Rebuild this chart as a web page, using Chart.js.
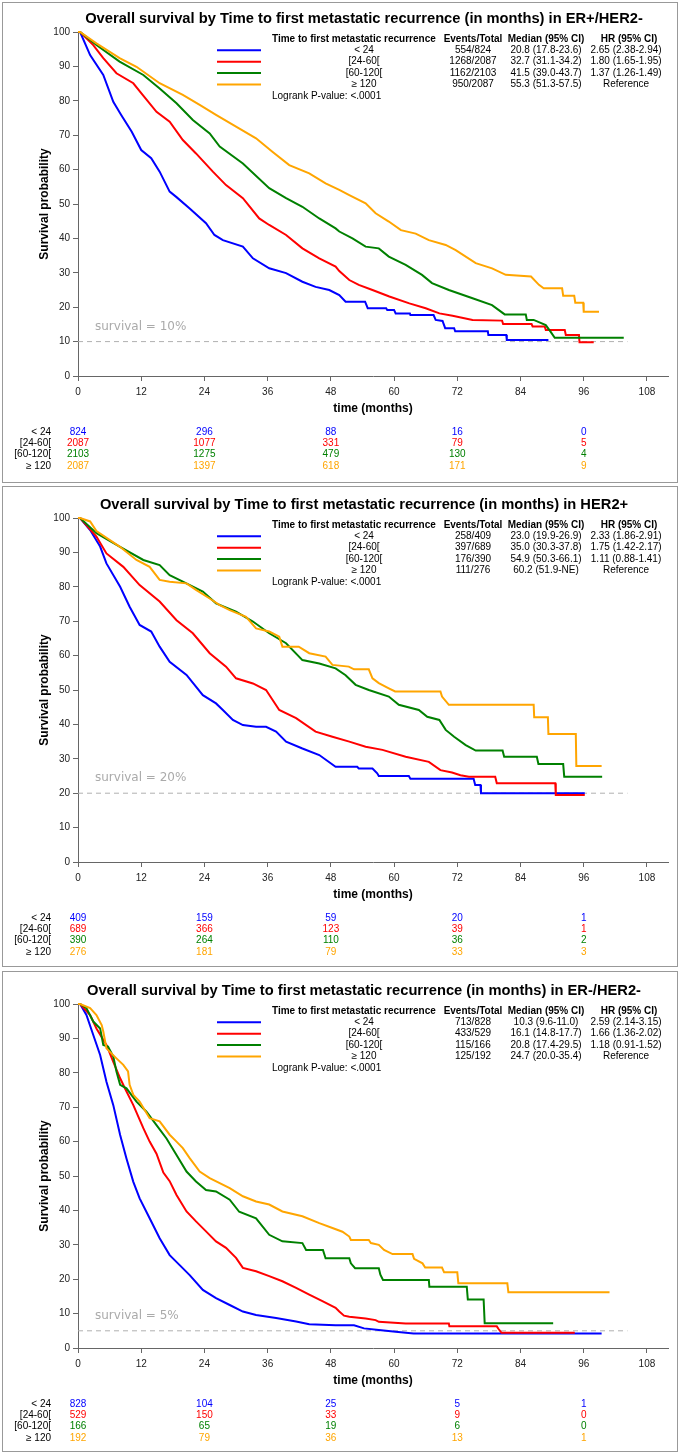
<!DOCTYPE html>
<html>
<head>
<meta charset="utf-8">
<script src="https://cdn.jsdelivr.net/npm/chart.js@4.4.1/dist/chart.umd.min.js"></script>
<style>
  body { margin: 0; background: #fff; }
  .panel { position: absolute; left: 2px; width: 676px; height: 481px; border: 1px solid #999; box-sizing: border-box; background: #fff; }
  .panel canvas { position: absolute; left: 0; top: 0; }
</style>
</head>
<body>
<div class="panel" style="top:2px"><canvas id="c1" width="674" height="479"></canvas></div>
<div class="panel" style="top:486px"><canvas id="c2" width="674" height="479"></canvas></div>
<div class="panel" style="top:971px"><canvas id="c3" width="674" height="479"></canvas></div>
<script>
const FONT = "'Liberation Sans', Arial, sans-serif";

const groups = ['< 24', '[24-60[', '[60-120[', '\u2265 120'];
const xTicks = [0, 12, 24, 36, 48, 60, 72, 84, 96, 108];
const yTicks = [0, 10, 20, 30, 40, 50, 60, 70, 80, 90, 100];
const atRiskTimes = [0, 24, 48, 72, 96];
const titles = [
  'Overall survival by Time to first metastatic recurrence (in months) in ER+/HER2-',
  'Overall survival by Time to first metastatic recurrence (in months) in HER2+',
  'Overall survival by Time to first metastatic recurrence (in months) in ER-/HER2-'
];
const refLevels = [10, 20, 5];
const refEnd = 104.3;

// ER+/HER2-  : [months, survival %]
const erpos_lt24 = [[0,100],[0.4,100],[2.3,93.3],[4.8,87.5],[6.7,79.7],[8.2,75.9],[10.2,71],[12,65.7],[13.9,63.3],[15.5,59.4],[17.4,53.6],[18.7,52],[21.2,48.7],[24.3,44.4],[25.9,41],[27.5,39.5],[31.3,37.6],[33.2,34.2],[36.3,31.3],[39.5,29.9],[42.6,27.4],[45.1,25.9],[47.7,25],[49.6,23.5],[50.8,21.6],[54.5,21.6],[55,19.7],[58.5,19.7],[58.7,19.2],[60,19.2],[60.3,18.2],[63,18.2],[63.1,17.7],[67.5,17.7],[67.9,16.3],[69.2,16],[69.7,13.9],[71.4,13.9],[71.6,13],[77.8,13],[77.9,11.9],[81.3,11.9],[81.4,10.5],[89.3,10.5]];
const erpos_24_60 = [[0,100],[0.4,100],[2.9,96.2],[4.8,92.4],[7.3,88],[10.5,85.1],[12,82.2],[14.9,76.8],[17.4,73.9],[19.9,68.6],[22.4,64.7],[25.6,59.4],[28.1,55.5],[31.3,51.7],[34.4,45.8],[36.3,43.9],[39.5,41],[42.6,37.1],[45.8,34.2],[48.9,31.8],[49.6,30.5],[51.5,27.9],[53.3,26.5],[55.9,25],[59.1,23.1],[62.9,21.1],[66,19.7],[68.6,18.2],[71.1,17.5],[74.9,16.3],[80.5,16.1],[80.7,15.1],[86.1,15.1],[86.3,14.4],[88.6,14.4],[88.8,13.4],[92.4,13.4],[92.6,11.9],[95.1,11.9],[95.2,9.8],[97.9,9.8]];
const erpos_60_120 = [[0,100],[0.4,100],[3.5,96.2],[7.9,91.4],[12.4,87.5],[15.5,83.6],[18.7,79.3],[21.8,74.4],[25,70.5],[26.9,66.7],[31.3,61.8],[36.3,54.6],[39.5,51.7],[42.6,49.2],[45.8,45.8],[48.9,42.9],[49.6,42],[52.1,40],[54.6,37.6],[57.1,37.1],[59,34.7],[62.2,32.3],[65.3,29.4],[67.2,27],[70.4,25],[74.9,22.6],[78.6,20.6],[81,17.9],[85,17.9],[85.2,16.3],[86.5,16.3],[88.8,14.8],[89.7,12.9],[90.5,11.1],[103.6,11.1]];
const erpos_ge120 = [[0,100],[0.4,100],[3.5,96.7],[7.9,92.4],[11.1,89.9],[15.5,85.1],[19.9,81.7],[23.1,78.8],[26.2,75.9],[30,72.5],[33.8,69.1],[36.9,65.2],[40.1,61.3],[43.9,58.9],[47,56],[49.6,54.1],[51.5,52.6],[54.6,50.2],[56.5,47.3],[59,44.9],[61.3,42.4],[64.1,41.4],[66.6,39.5],[69.8,38.1],[71.7,36.6],[75.5,32.8],[78.6,31.3],[81.2,29.4],[86,28.9],[87.5,26.5],[88.4,25.5],[91.9,25.5],[92.1,23.3],[94.2,23.3],[94.4,21.3],[95.9,21.3],[96,18.7],[98.9,18.7]];

// HER2+
const her2_lt24 = [[0,100],[0.4,100],[2.3,96.5],[4.2,91.7],[5.4,86.8],[8,80],[9.8,74.2],[11.7,68.9],[13.9,67],[15.5,62.6],[17.4,58.2],[20.6,54.4],[23.7,48.5],[26.2,46.1],[27.5,44.2],[29.4,41.3],[31.3,39.8],[33.8,39.3],[35.7,39.3],[37.6,37.9],[39.5,35],[42.6,33],[45.8,31.1],[48.9,27.7],[53,27.7],[53.3,27.2],[55.9,27.2],[56.8,25.8],[57.1,25],[62.8,25],[63.1,24.2],[75.1,24.2],[75.4,22.4],[76.4,22.4],[76.5,20],[96.2,20]];
const her2_24_60 = [[0,100],[0.4,100],[3.5,94.6],[5.4,89.7],[8.6,85.8],[11.7,80.5],[15.5,75.7],[18.7,70.3],[21.8,66.5],[25,60.7],[28.1,56.8],[30,53.4],[33.2,51.9],[35.7,50],[38.2,44.2],[41.4,41.8],[45.1,37.9],[48.3,36.4],[51.5,35],[54.6,33.5],[57.8,32.6],[62.2,30.6],[66.6,29.1],[68.8,26.7],[71,26],[72.6,25.2],[74.2,24.8],[79.2,24.8],[79.5,22.9],[90.6,22.9],[90.7,19.5],[96.2,19.5]];
const her2_60_120 = [[0,100],[0.4,100],[3.5,95.6],[7.9,91.7],[12.4,87.8],[15.5,86.3],[17.4,83.4],[19.9,81.5],[23.7,78.6],[26.2,75.2],[30,72.8],[33.2,69.9],[36.3,66.5],[39.5,63.6],[42.6,58.7],[45.8,57.7],[48.9,56.3],[50.8,54.3],[52.7,51.5],[55.2,50],[59,48.1],[60.9,45.7],[64.7,44.2],[66.3,42.2],[68.6,41.3],[69.8,38.4],[71.4,36.4],[73.6,34],[75.5,32.4],[80.6,32.4],[80.9,30.6],[87.1,30.6],[87.4,28.5],[92.1,28.5],[92.3,24.8],[99.5,24.8]];
const her2_ge120 = [[0,100],[0.4,100],[2.3,99],[3.5,96.2],[7.9,91.7],[11.1,87.8],[13.6,85.8],[15.5,82],[17.4,81.5],[20.6,81],[22.4,79.1],[25,76.6],[26.9,74.7],[28.8,73.2],[31.9,71.3],[33.8,67.9],[36.3,67],[38.2,65.5],[38.8,62.6],[41.9,62.6],[43.9,60.7],[47,59.7],[48.3,57.3],[51.4,56.8],[52.4,56],[55.2,56],[55.9,53.4],[57.1,52],[59,50.5],[60.2,49.6],[68.8,49.6],[69.1,48.1],[70.4,45.7],[86.5,45.7],[86.6,42.1],[89.2,42.1],[89.3,37.2],[94.5,37.2],[94.6,27.9],[99.4,27.9]];

// ER-/HER2-
const ern_lt24 = [[0,100],[0.4,100],[1.6,96.8],[2.9,91],[4.2,85.2],[5.4,77.4],[6.7,70.6],[8,61.9],[9.2,55.1],[10.5,48.3],[11.7,43.5],[13.6,37.7],[15.5,31.9],[17.4,27],[19.3,24.1],[21.2,21.2],[23.7,16.9],[26.2,14.5],[28.8,12.5],[31.3,10.6],[33.8,9.6],[37.6,8.7],[41.4,7.7],[43.9,6.9],[48.9,6.6],[52.4,6.6],[54.3,5.7],[57.1,5.2],[60.3,4.7],[63.7,4.2],[99.4,4.2]];
const ern_24_60 = [[0,100],[0.4,100],[2.3,96.8],[3.5,92.9],[5.4,88.1],[6.7,83.2],[8,78.4],[8.9,75.5],[10.5,70.6],[12.4,63.9],[13.6,60],[14.9,56.5],[16.2,51],[17.4,48.5],[18.7,44.5],[20.6,39.7],[22.4,36.8],[24.3,33.9],[26.2,31],[28.1,29.1],[30,26.2],[31.3,23.3],[33.8,22.3],[36.3,20.9],[38.8,19.4],[41.4,17.5],[43.9,15.5],[46.4,13.6],[48.9,11.7],[49.6,10.6],[50.5,9.4],[51.5,9.1],[54.6,8.6],[56.5,8.1],[57.1,7.6],[62.2,7.1],[70.4,7.1],[70.5,6.3],[79.5,6.3],[79.8,5.6],[80.4,4.4],[94.3,4.4]];
const ern_60_120 = [[0,100],[0.4,100],[1.6,98.8],[2.9,94.9],[4.2,92.9],[4.8,88.1],[5.7,87.6],[6.7,84.7],[7.3,80.4],[8,76.5],[9.2,75.5],[11.1,71.6],[13,68.7],[14.9,64.8],[16.8,60.9],[18.7,56.1],[20.6,51.3],[22.4,48.4],[24.3,45.9],[26.2,45.5],[28.8,43.1],[30.6,39.6],[33.8,37.7],[36.3,32.9],[38.8,31],[42.6,30.5],[43.3,28.5],[46.5,28.5],[47,26.1],[51.5,26.1],[51.8,24.6],[52.6,23.2],[57.1,23.2],[57.4,21.3],[57.9,19.8],[66.6,19.8],[66.7,17.8],[73.8,17.8],[74,14.1],[77,14.1],[77.2,7.2],[90.2,7.2]];
const ern_ge120 = [[0,100],[0.4,100],[2.3,98.8],[3.5,96.8],[4.5,93.9],[4.8,92],[5.4,87.1],[7.3,84.2],[8.6,82.3],[9.5,80.4],[9.8,76.5],[10.5,73.6],[11.7,71.6],[13.6,66.8],[15.5,65.9],[17.4,62],[18.7,60],[19.9,58.1],[21.2,55.2],[23.1,51.3],[25,49.4],[28.8,46.5],[31.3,44.1],[33.8,42.6],[36.3,41.7],[38.8,39.7],[42.6,38.3],[45.8,36.3],[48.3,34.9],[50.2,33.8],[51.5,32.4],[51.8,31.4],[55.2,31.4],[55.6,30.5],[57.1,30],[58.1,28.5],[59.7,27.3],[63.5,27.3],[63.8,25.9],[65.4,24.6],[65.9,23.4],[69.1,23.4],[69.5,22],[72,22],[72.2,18.8],[81.5,18.8],[81.7,16.2],[100.9,16.2]];

// legend table text
const erposEvents = ['554/824', '1268/2087', '1162/2103', '950/2087'];
const erposMedian = ['20.8 (17.8-23.6)', '32.7 (31.1-34.2)', '41.5 (39.0-43.7)', '55.3 (51.3-57.5)'];
const erposHR = ['2.65 (2.38-2.94)', '1.80 (1.65-1.95)', '1.37 (1.26-1.49)', 'Reference'];
const her2Events = ['258/409', '397/689', '176/390', '111/276'];
const her2Median = ['23.0 (19.9-26.9)', '35.0 (30.3-37.8)', '54.9 (50.3-66.1)', '60.2 (51.9-NE)'];
const her2HR = ['2.33 (1.86-2.91)', '1.75 (1.42-2.17)', '1.11 (0.88-1.41)', 'Reference'];
const ernEvents = ['713/828', '433/529', '115/166', '125/192'];
const ernMedian = ['10.3 (9.6-11.0)', '16.1 (14.8-17.7)', '20.8 (17.4-29.5)', '24.7 (20.0-35.4)'];
const ernHR = ['2.59 (2.14-3.15)', '1.66 (1.36-2.02)', '1.18 (0.91-1.52)', 'Reference'];

// number at risk
const erposRisk = [[824, 296, 88, 16, 0], [2087, 1077, 331, 79, 5], [2103, 1275, 479, 130, 4], [2087, 1397, 618, 171, 9]];
const her2Risk = [[409, 159, 59, 20, 1], [689, 366, 123, 39, 1], [390, 264, 110, 36, 2], [276, 181, 79, 33, 3]];
const ernRisk = [[828, 104, 25, 5, 1], [529, 150, 33, 9, 0], [166, 65, 19, 6, 0], [192, 79, 36, 13, 1]];

const colors = ['#0000ff', '#ff0000', '#008000', '#ffa500'];

const panels = [
  { id: 'c1', title: titles[0], curves: [erpos_lt24, erpos_24_60, erpos_60_120, erpos_ge120], events: erposEvents, median: erposMedian, hr: erposHR, risk: erposRisk, ref: refLevels[0], top: 29 },
  { id: 'c2', title: titles[1], curves: [her2_lt24, her2_24_60, her2_60_120, her2_ge120], events: her2Events, median: her2Median, hr: her2HR, risk: her2Risk, ref: refLevels[1], top: 31 },
  { id: 'c3', title: titles[2], curves: [ern_lt24, ern_24_60, ern_60_120, ern_ge120], events: ernEvents, median: ernMedian, hr: ernHR, risk: ernRisk, ref: refLevels[2], top: 32 }
];

// texts around the plot: title, legend table, axis titles, numbers at risk
const kmText = {
  id: 'kmText',
  afterDraw(chart, args, opts) {
    const p = opts.panel;
    const { ctx, chartArea: a } = chart;
    const x = chart.scales.x, y = chart.scales.y;
    ctx.save();
    ctx.textBaseline = 'middle';
    ctx.fillStyle = '#000';

    ctx.font = 'bold 14.7px ' + FONT;
    ctx.textAlign = 'center';
    ctx.fillText(p.title, 361, a.top - 13);

    // legend table
    ctx.font = 'bold 10px ' + FONT;
    ctx.textAlign = 'left';
    ctx.fillText('Time to first metastatic recurrence', 269, a.top + 7);
    ctx.textAlign = 'center';
    ctx.fillText('Events/Total', 470, a.top + 7);
    ctx.fillText('Median (95% CI)', 543, a.top + 7);
    ctx.fillText('HR (95% CI)', 626, a.top + 7);
    ctx.font = '10px ' + FONT;
    groups.forEach((g, i) => {
      const ry = a.top + 18.3 + 11.4 * i;
      ctx.strokeStyle = colors[i];
      ctx.lineWidth = 2;
      ctx.beginPath();
      ctx.moveTo(214, ry);
      ctx.lineTo(258, ry);
      ctx.stroke();
      ctx.fillStyle = '#000';
      ctx.fillText(g, 361, ry);
      ctx.fillText(p.events[i], 470, ry);
      ctx.fillText(p.median[i], 543, ry);
      ctx.fillText(p.hr[i], 623, ry);
    });
    ctx.textAlign = 'left';
    ctx.fillText('Logrank P-value: <.0001', 269, a.top + 64.5);

    // reference label
    ctx.font = "12px 'DejaVu Sans', sans-serif";
    ctx.fillStyle = '#aaa';
    ctx.fillText('survival = ' + p.ref + '%', 92, y.getPixelForValue(p.ref) - 15);

    // axis titles
    ctx.fillStyle = '#000';
    ctx.font = 'bold 12px ' + FONT;
    ctx.textAlign = 'center';
    ctx.fillText('time (months)', (a.left + a.right) / 2, a.bottom + 33);
    ctx.save();
    ctx.translate(42, (a.top + a.bottom) / 2);
    ctx.rotate(-Math.PI / 2);
    ctx.fillText('Survival probability', 0, 0);
    ctx.restore();

    // number at risk
    ctx.font = '10px ' + FONT;
    groups.forEach((g, i) => {
      const ry = a.bottom + 56.3 + 11.2 * i;
      ctx.fillStyle = '#000';
      ctx.textAlign = 'right';
      ctx.fillText(g, 48, ry);
      ctx.textAlign = 'center';
      ctx.fillStyle = colors[i];
      p.risk[i].forEach((n, j) => ctx.fillText(String(n), x.getPixelForValue(atRiskTimes[j]), ry));
    });
    ctx.restore();
  }
};

function makeChart(p) {
  const datasets = p.curves.map((c, i) => ({
    data: c.map(([t, s]) => ({ x: t, y: s })),
    borderColor: colors[i],
    borderWidth: 2,
    pointRadius: 0,
    fill: false,
    tension: 0,
    clip: false
  })).reverse();
  datasets.push({
    data: [{ x: 0, y: p.ref }, { x: refEnd, y: p.ref }],
    borderColor: '#b0b0b0',
    borderWidth: 1,
    borderDash: [5, 4],
    pointRadius: 0,
    fill: false
  });
  const axisColor = '#666';
  new Chart(document.getElementById(p.id), {
    type: 'line',
    data: { datasets },
    options: {
      responsive: false,
      animation: false,
      layout: { padding: { top: p.top, right: 9, left: 0, bottom: 0 } },
      plugins: { legend: { display: false }, tooltip: { enabled: false }, kmText: { panel: p } },
      scales: {
        x: {
          type: 'linear', min: 0, max: 112,
          afterBuildTicks: s => { s.ticks = xTicks.map(v => ({ value: v })); },
          afterFit: s => { s.height = 479 - p.top - 344; },
          grid: { drawOnChartArea: false, tickLength: 5, color: axisColor },
          border: { color: axisColor },
          ticks: { font: { size: 10, family: FONT }, color: '#222', padding: 5, maxRotation: 0, autoSkip: false }
        },
        y: {
          type: 'linear', min: 0, max: 100,
          afterBuildTicks: s => { s.ticks = yTicks.map(v => ({ value: v })); },
          afterFit: s => { s.width = 75; },
          grid: { drawOnChartArea: false, tickLength: 5, color: axisColor },
          border: { color: axisColor },
          ticks: { font: { size: 10, family: FONT }, color: '#222', padding: 3 }
        }
      }
    },
    plugins: [kmText]
  });
}

panels.forEach(makeChart);
</script>
</body>
</html>
